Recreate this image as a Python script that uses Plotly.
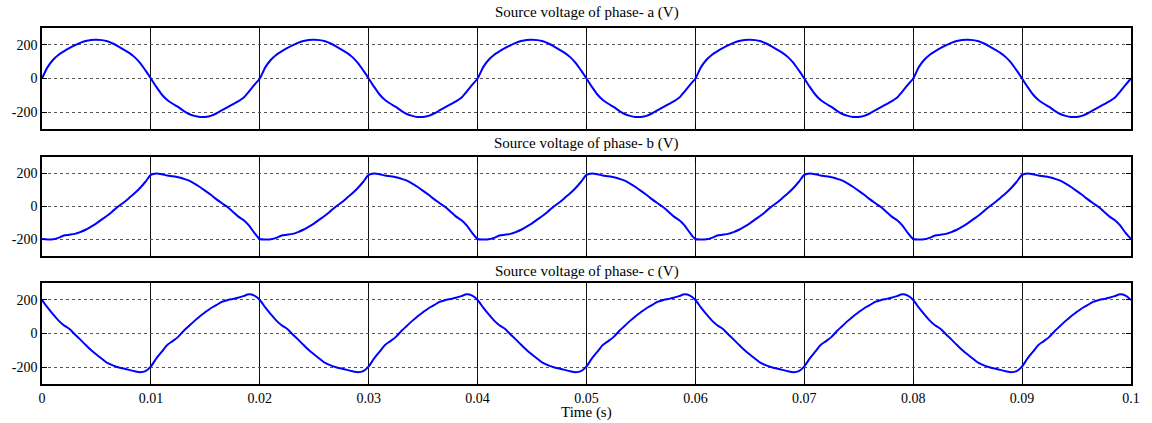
import plotly.graph_objects as go

period_time_ms = [0.0, 0.5, 1.0, 1.5, 2.0, 2.5, 3.0, 3.5, 4.0, 4.5,
                  5.0, 5.5, 6.0, 6.5, 7.0, 7.5, 8.0, 8.5, 9.0, 9.5,
                  10.0, 10.5, 11.0, 11.5, 12.0, 12.5, 13.0, 13.5, 14.0, 14.5,
                  15.0, 15.5, 16.0, 16.5, 17.0, 17.5, 18.0, 18.5, 19.0, 19.5]
n_periods = 5

phase_a = [0, 66, 110, 140, 161, 180, 197, 212, 223, 229,
           230, 228, 221, 208, 191, 172, 152, 127, 93, 48,
           0, -50, -95, -128, -150, -169, -192, -211, -222, -228,
           -228, -222, -208, -190, -172, -154, -136, -115, -78, -38]

phase_b = [-197, -200, -199, -190, -176, -171, -166, -155, -141, -122,
           -102, -78, -55, -28, 0, 24, 52, 80, 112, 150,
           192, 200, 196, 188, 183, 177, 168, 157, 139, 118,
           95, 71, 45, 21, -2, -30, -60, -82, -115, -160]

phase_c = [199, 155, 115, 78, 49, 28, -4, -35, -67, -98,
           -125, -150, -175, -189, -200, -208, -216, -224, -230, -224,
           -195, -148, -108, -68, -45, -20, 15, 45, 75, 103,
           127, 150, 168, 188, 198, 205, 212, 222, 233, 225]

titles = ["Source voltage of phase- a (V)",
          "Source voltage of phase- b (V)",
          "Source voltage of phase- c (V)"]
x_tick_vals = [0, 0.01, 0.02, 0.03, 0.04, 0.05, 0.06, 0.07, 0.08, 0.09, 0.1]
x_tick_text = ["0", "0.01", "0.02", "0.03", "0.04", "0.05", "0.06", "0.07", "0.08", "0.09", "0.1"]
y_tick_vals = [-200, 0, 200]
y_tick_text = ["-200", "0", "200"]
x_label = "Time (s)"


def full_series(period_values):
    vals = list(period_values) * n_periods
    vals.append(period_values[0])
    return vals


t_full = [(k * 20.0 + tm) / 1000.0 for k in range(n_periods) for tm in period_time_ms]
t_full.append(n_periods * 20.0 / 1000.0)

series = [full_series(phase_a), full_series(phase_b), full_series(phase_c)]

FONT = "'Liberation Serif', 'Times New Roman', serif"
W, H = 1152, 423
ML, MR, MT, MB = 41, 15, 28, 39
plot_h = H - MT - MB
panels_px = [(28, 129), (157, 256), (283, 384)]


def py(ypix):
    return (H - MB - ypix) / plot_h


fig = go.Figure()
layout_axes = {}
for i, (vals, (top, bot)) in enumerate(zip(series, panels_px)):
    n = i + 1
    xa = "x" if n == 1 else f"x{n}"
    ya = "y" if n == 1 else f"y{n}"
    fig.add_trace(go.Scatter(x=t_full, y=vals, mode="lines", xaxis=xa, yaxis=ya,
                             line=dict(color="#0000FF", width=2, shape="spline", smoothing=0.7),
                             showlegend=False, hoverinfo="skip"))
    xkey = "xaxis" if n == 1 else f"xaxis{n}"
    ykey = "yaxis" if n == 1 else f"yaxis{n}"
    layout_axes[xkey] = dict(
        domain=[0, 1], anchor=ya, range=[0, 0.1],
        tickvals=x_tick_vals, ticktext=x_tick_text,
        showticklabels=(n == 3),
        showgrid=True, gridcolor="#111111", gridwidth=1,
        showline=True, linecolor="black", linewidth=1.5, mirror="ticks",
        ticks="inside", ticklen=5, tickcolor="black",
        zeroline=False,
        tickfont=dict(family=FONT, size=14, color="black"),
        ticklabelstandoff=0,
    )
    layout_axes[ykey] = dict(
        domain=[py(bot), py(top)], anchor=xa, range=[-300, 300],
        tickvals=y_tick_vals, ticktext=y_tick_text,
        showgrid=True, gridcolor="#555555", gridwidth=1, griddash="dot",
        showline=True, linecolor="black", linewidth=1.5, mirror="ticks",
        ticks="inside", ticklen=5, tickcolor="black",
        zeroline=False,
        tickfont=dict(family=FONT, size=14, color="black"),
    )

annotations = []
title_px = [13, 143, 271]
for txt, yp in zip(titles, title_px):
    annotations.append(dict(text=txt, x=0.5, xref="paper", y=py(yp), yref="paper",
                            xanchor="center", yanchor="middle", showarrow=False,
                            font=dict(family=FONT, size=15, color="black")))
annotations.append(dict(text=x_label, x=0.5, xref="paper", y=py(412), yref="paper",
                        xanchor="center", yanchor="middle", showarrow=False,
                        font=dict(family=FONT, size=15, color="black")))

fig.update_layout(
    width=W, height=H,
    margin=dict(l=ML, r=MR, t=MT, b=MB),
    paper_bgcolor="white", plot_bgcolor="white",
    annotations=annotations,
    **layout_axes,
)

fig.write_html("out.html")
